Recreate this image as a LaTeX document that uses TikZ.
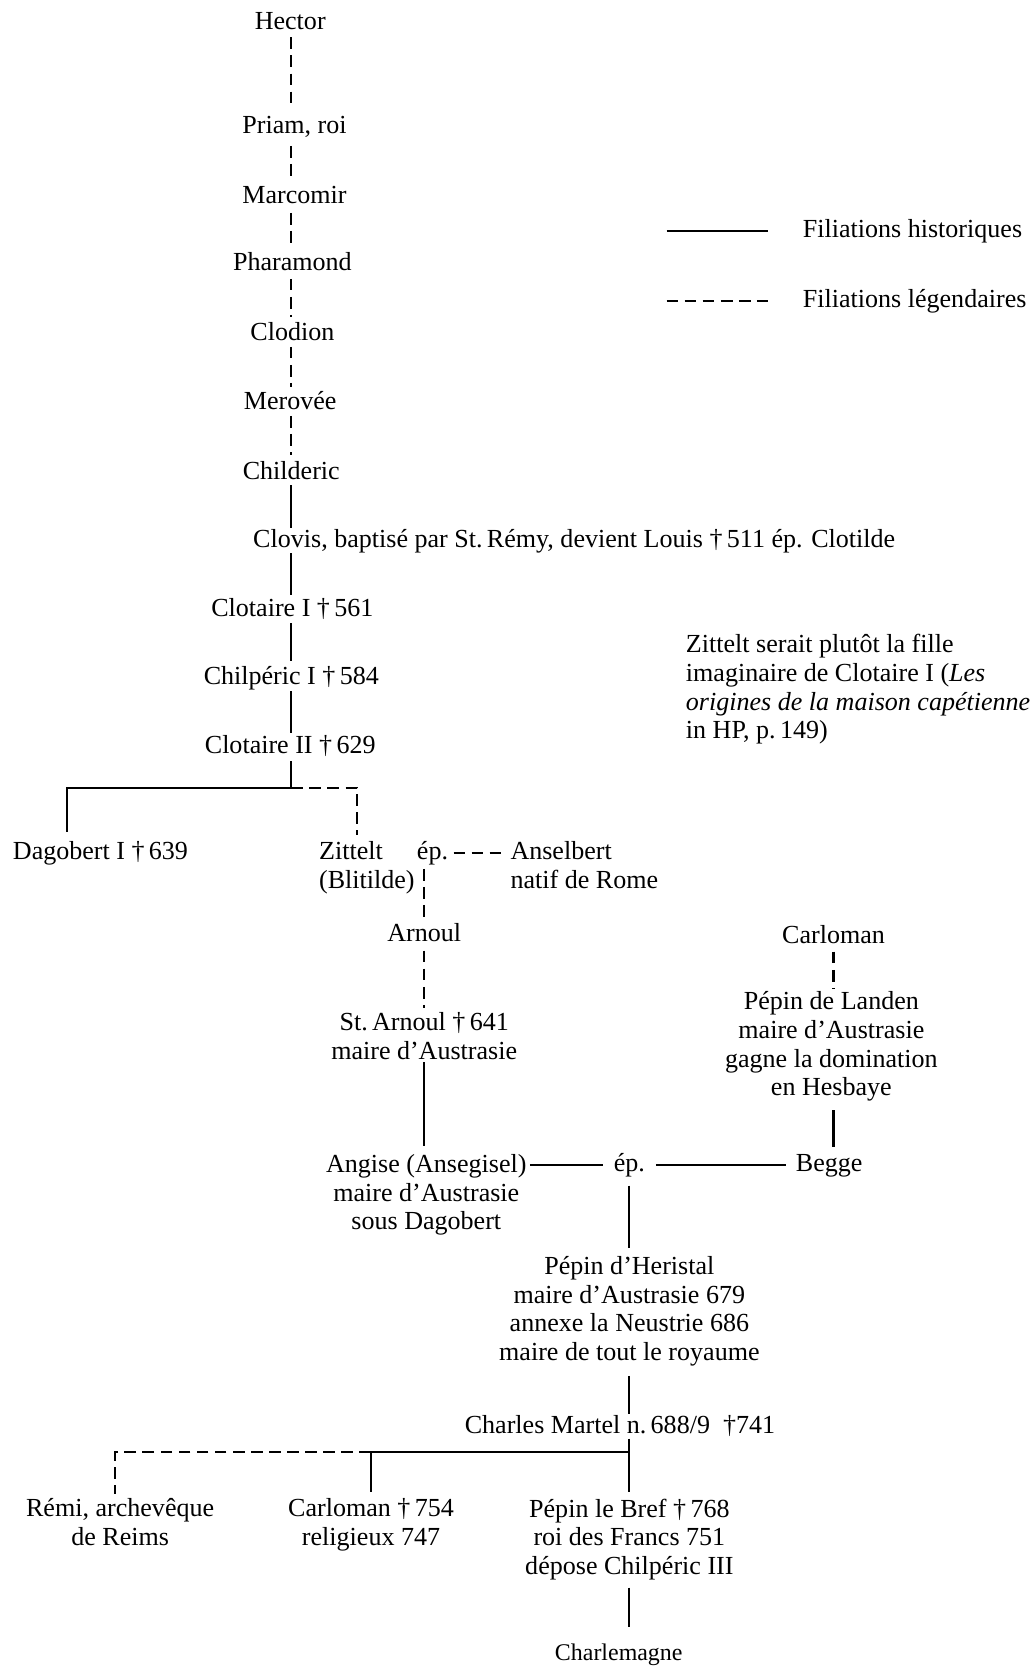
\documentclass[tikz,border=0pt]{standalone}
\usepackage{fontspec}
\setmainfont{Liberation Serif}
\begin{document}
\begin{tikzpicture}[x=1pt,y=-1pt,
  every node/.style={font=\fontsize{24.5}{27}\selectfont, inner sep=0pt},
  lbl/.style={text height=17pt, text depth=5pt},
  blk/.style={align=center},
  blkl/.style={align=left},
  hist/.style={line width=2pt},
  leg/.style={line width=2pt, dash pattern=on 11pt off 6pt}]
\fill[white] (0,0) rectangle (972,1568);
\useasboundingbox (0,0) rectangle (972,1568);
% coordinates
\coordinate (col) at (274,0);
\coordinate (jA) at (274,741);
\coordinate (jB) at (592,1366);
\coordinate (dA) at (63,0);
\coordinate (zA) at (336,0);
\coordinate (rA) at (108,0);
% nodes
\node[lbl, anchor=base] (hector) at (273,28) {Hector};
\node[lbl, anchor=base] (priam) at (277,126) {Priam, roi};
\node[lbl, anchor=base] (marcomir) at (277,191) {Marcomir};
\node[lbl, anchor=base] (pharamond) at (275,254) {Pharamond};
\node[lbl, anchor=base] (clodion) at (275,320) {Clodion};
\node[lbl, anchor=base] (merovee) at (273,385) {Merovée};
\node[lbl, anchor=base] (childeric) at (274,451) {Childeric};
\node[lbl, anchor=base west] (clovis) at (238,515) {Clovis, baptisé par St.\,Rémy, devient Louis †\,511 ép. Clotilde};
\node[lbl, anchor=base] (clotaire1) at (275,580) {Clotaire I †\,561};
\node[lbl, anchor=base] (chilperic) at (274,644) {Chilpéric I †\,584};
\node[lbl, anchor=base] (clotaire2) at (273,709) {Clotaire II †\,629};
\node[lbl, anchor=base west] (dagobert) at (12,808) {Dagobert I †\,639};
\node[blkl, anchor=north west] (zittelt) at (300,791.5) {Zittelt\\(Blitilde)};
\node[lbl, anchor=base west] (ep1) at (392,808) {ép.};
\node[blkl, anchor=north west] (anselbert) at (480,791.5) {Anselbert\\natif de Rome};
\node[lbl, anchor=base] (arnoul) at (399,886) {Arnoul};
\node[blk, anchor=north] (starnoul) at (399,952.5) {St.\,Arnoul †\,641\\maire d’Austrasie};
\node[blk, anchor=north] (angise) at (401,1085.5) {Angise (Ansegisel)\\maire d’Austrasie\\sous Dagobert};
\node[lbl, anchor=base] (ep2) at (592,1102) {ép.};
\node[lbl, anchor=base] (begge) at (780,1102) {Begge};
\node[lbl, anchor=base] (carloman1) at (784,887) {Carloman};
\node[blk, anchor=north] (pepinlanden) at (782,932.5) {Pépin de Landen\\maire d’Austrasie\\gagne la domination\\en Hesbaye};
\node[blk, anchor=north] (heristal) at (592,1181.5) {Pépin d’Heristal\\maire d’Austrasie 679\\annexe la Neustrie 686\\maire de tout le royaume};
\node[lbl, anchor=base west] (charlesmartel) at (437,1348) {Charles Martel n.\,688/9\ \ †741};
\node[blk, anchor=north] (remi) at (113,1409.5) {Rémi, archevêque\\de Reims};
\node[blk, anchor=north] (carloman2) at (349,1409.5) {Carloman †\,754\\religieux 747};
\node[blk, anchor=north] (pepinbref) at (592,1409.5) {Pépin le Bref †\,768\\roi des Francs 751\\dépose Chilpéric III};
\node[lbl, anchor=base, font=\fontsize{22.5}{27}\selectfont] (charlemagne) at (582,1562) {Charlemagne};
\node[lbl, anchor=base west] (legH) at (755,223) {Filiations historiques};
\node[lbl, anchor=base west] (legL) at (755,289) {Filiations légendaires};
\node[blkl, anchor=north west] (note) at (645,596.5) {Zittelt serait plutôt la fille\\imaginaire de Clotaire I (\emph{Les}\\\emph{origines de la maison capétienne}\\in HP, p.\,149)};
% legend samples
\draw[hist] ([xshift=-128pt]legH.west) -- ([xshift=-33pt]legH.west);
\draw[leg] ([xshift=-128pt]legL.west) -- ([xshift=-33pt]legL.west);
% main column
\draw[leg, shorten <=2pt, shorten >=6pt] (hector.south -| col) -- (priam.north -| col);
\draw[leg, shorten <=6pt, shorten >=4pt] (priam.south -| col) -- (marcomir.north -| col);
\draw[leg, shorten <=4pt, shorten >=5pt] (marcomir.south -| col) -- (pharamond.north -| col);
\draw[leg, shorten <=3pt, shorten >=5pt] (pharamond.south -| col) -- (clodion.north -| col);
\draw[leg, shorten <=1pt, shorten >=4pt] (clodion.south -| col) -- (merovee.north -| col);
\draw[leg, shorten <=1pt, shorten >=6pt] (merovee.south -| col) -- (childeric.north -| col);
\draw[hist, shorten >=1pt] (childeric.south -| col) -- (clovis.north -| col);
\draw[hist, shorten >=3pt] (clovis.south -| col) -- (clotaire1.north -| col);
\draw[hist, shorten <=1pt, shorten >=5pt] (clotaire1.south -| col) -- (chilperic.north -| col);
\draw[hist, shorten <=1pt, shorten >=2pt] (chilperic.south -| col) -- (clotaire2.north -| col);
\draw[hist, shorten <=2pt] (clotaire2.south -| col) -- (jA);
% Clotaire II branch
\draw[hist, shorten >=8pt] (jA) -| (dagobert.north -| dA);
\draw[leg, shorten >=6pt] (jA) -| (zittelt.north -| zA);
\draw[leg, shorten <=5pt, shorten >=5pt] (ep1.east) -- (ep1.east -| anselbert.west);
\draw[leg, shorten <=4pt, shorten >=4pt] (ep1.south -| arnoul.north) -- (arnoul.north);
\draw[leg, shorten <=3pt, shorten >=4pt] (arnoul.south) -- (starnoul.north);
\draw[hist, shorten <=2pt, shorten >=8pt] (starnoul.south) -- (angise.north -| starnoul.south);
% marriage
\draw[hist, shorten <=3pt, shorten >=10pt] (ep2.west -| angise.east) -- (ep2.west);
\draw[hist, shorten <=10pt, shorten >=9pt] (ep2.east) -- (begge.west);
\draw[leg, shorten <=3pt, shorten >=3pt] (carloman1.south) -- (pepinlanden.north -| carloman1.south);
\draw[hist, shorten <=8pt, shorten >=6pt] (pepinlanden.south -| carloman1.south) -- (begge.north -| carloman1.south);
\draw[hist, shorten <=8pt, shorten >=8pt] (ep2.south) -- (heristal.north);
\draw[hist, shorten <=9pt, shorten >=1pt] (heristal.south) -- (charlesmartel.north -| heristal.south);
\draw[hist, shorten >=6pt] (charlesmartel.south -| jB) -- (pepinbref.north);
\draw[hist, shorten >=6pt] (jB) -| (carloman2.north);
\draw[leg, shorten >=4pt] (carloman2.north |- jB) -| (remi.north -| rA);
\draw[hist, shorten <=7pt, shorten >=14pt] (pepinbref.south) -- (charlemagne.north -| pepinbref.south);
\end{tikzpicture}
\end{document}
